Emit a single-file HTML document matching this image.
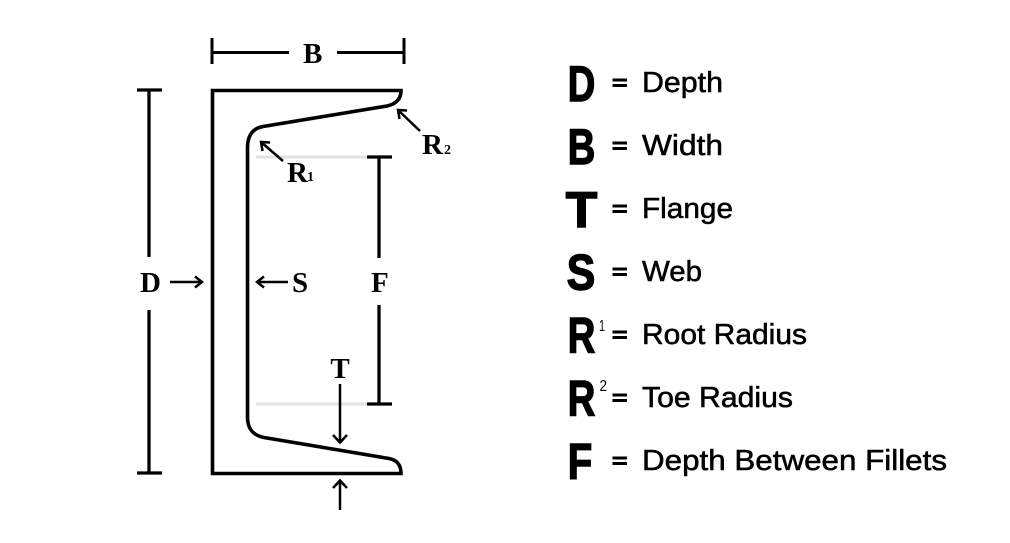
<!DOCTYPE html>
<html>
<head>
<meta charset="utf-8">
<style>
  html, body { margin: 0; padding: 0; background: #fff; }
  body { width: 1010px; height: 543px; overflow: hidden; }
  svg { display: block; }
  .serif { font-family: "Liberation Serif", "DejaVu Serif", serif; font-weight: bold; fill: #000; }
  .big { font-family: "Liberation Sans", "DejaVu Sans", sans-serif; font-weight: bold; fill: #000; font-size: 50px; stroke: #000; stroke-width: 1.5px; stroke-linejoin: miter; }
  .txt { font-family: "Liberation Sans", "DejaVu Sans", sans-serif; fill: #000; font-size: 29px; stroke: #000; stroke-width: 0.55px; }
  .sup { font-family: "Liberation Sans", "DejaVu Sans", sans-serif; fill: #000; font-size: 16px; }
</style>
</head>
<body>
<svg width="1010" height="543" viewBox="0 0 1010 543" xmlns="http://www.w3.org/2000/svg">
  <rect x="0" y="0" width="1010" height="543" fill="#fff"/>

  <!-- gray fillet lines -->
  <line x1="256" y1="157" x2="367" y2="157" stroke="#e2e2e2" stroke-width="3"/>
  <line x1="256" y1="404" x2="367" y2="404" stroke="#e2e2e2" stroke-width="3"/>

  <!-- channel section -->
  <path d="M 401,90.5 L 212.5,90.5 L 212.5,473.5 L 401,473.5
           C 401,465 397,460 389,458.5
           L 264,437.5
           C 252,435 247.5,428 247.5,417
           L 247.5,148
           C 247.5,136 252,128.5 263,126.5
           L 387,106
           C 396,104 401,99 401,90.5 Z"
        fill="none" stroke="#000" stroke-width="3.6" stroke-linejoin="miter"/>

  <!-- B dimension -->
  <g stroke="#000" stroke-width="3" fill="none">
    <line x1="212" y1="52.5" x2="289" y2="52.5"/>
    <line x1="337" y1="52.5" x2="404" y2="52.5"/>
    <line x1="212" y1="38" x2="212" y2="64"/>
    <line x1="404" y1="38" x2="404" y2="64"/>
  </g>
  <text class="serif" x="303" y="63" font-size="29">B</text>

  <!-- D dimension -->
  <g stroke="#000" stroke-width="3.3" fill="none">
    <line x1="149" y1="90" x2="149" y2="257"/>
    <line x1="149" y1="310" x2="149" y2="473"/>
    <line x1="137" y1="90" x2="162" y2="90"/>
    <line x1="137" y1="473" x2="162" y2="473"/>
  </g>
  <text class="serif" x="140" y="292" font-size="29">D</text>
  <g stroke="#000" stroke-width="2.5" fill="none">
    <line x1="170" y1="282" x2="202" y2="282"/>
    <polyline points="195,276.5 202,282 195,287.5"/>
  </g>

  <!-- S -->
  <g stroke="#000" stroke-width="2.5" fill="none">
    <line x1="257" y1="282" x2="288" y2="282"/>
    <polyline points="264,276.5 257,282 264,287.5"/>
  </g>
  <text class="serif" x="292" y="292" font-size="29">S</text>

  <!-- F dimension -->
  <g stroke="#000" stroke-width="3.3" fill="none">
    <line x1="379" y1="157" x2="379" y2="258"/>
    <line x1="379" y1="305" x2="379" y2="404"/>
    <line x1="367" y1="157" x2="392" y2="157"/>
    <line x1="367" y1="404" x2="392" y2="404"/>
  </g>
  <text class="serif" x="371" y="292" font-size="29">F</text>

  <!-- T -->
  <text class="serif" x="340" y="378" font-size="29" text-anchor="middle">T</text>
  <g stroke="#000" stroke-width="2.5" fill="none">
    <line x1="340" y1="384" x2="340" y2="442"/>
    <polyline points="333,435 340,442.5 347,435"/>
    <line x1="340" y1="510" x2="340" y2="481"/>
    <polyline points="333,488 340,480.5 347,488"/>
  </g>

  <!-- R1 -->
  <g stroke="#000" stroke-width="2.5" fill="none">
    <line x1="283" y1="161" x2="261" y2="142"/>
    <polyline points="262.5,151 261,142 270,142.5"/>
  </g>
  <text class="serif" x="287" y="182" font-size="29">R</text>
  <text class="serif" x="307" y="181" font-size="14">1</text>

  <!-- R2 -->
  <g stroke="#000" stroke-width="2.5" fill="none">
    <line x1="420" y1="131" x2="398" y2="110"/>
    <polyline points="399.5,119 398,110 407,110.5"/>
  </g>
  <text class="serif" x="422" y="154" font-size="29">R</text>
  <text class="serif" x="444" y="154" font-size="14">2</text>

  <!-- Legend big letters -->
  <text class="big" x="567.75" y="101.2" textLength="27.5" lengthAdjust="spacingAndGlyphs">D</text>
  <text class="big" x="567.75" y="164.2" textLength="27.5" lengthAdjust="spacingAndGlyphs">B</text>
  <text class="big" x="565.75" y="227.2" textLength="31.5" lengthAdjust="spacingAndGlyphs">T</text>
  <text class="big" x="566.75" y="289.7" textLength="28.5" lengthAdjust="spacingAndGlyphs">S</text>
  <text class="big" x="567.75" y="352.7" textLength="27.5" lengthAdjust="spacingAndGlyphs">R</text>
  <text class="big" x="567.75" y="415.7" textLength="27.5" lengthAdjust="spacingAndGlyphs">R</text>
  <text class="big" x="567.75" y="478.7" textLength="24.5" lengthAdjust="spacingAndGlyphs">F</text>

  <text class="sup" x="599" y="331" textLength="6" lengthAdjust="spacingAndGlyphs">1</text>
  <text class="sup" x="599.5" y="391" textLength="7.5" lengthAdjust="spacingAndGlyphs">2</text>

  <!-- equals signs -->
  <g fill="#000">
    <rect x="612.5" y="78.5" width="14.5" height="3"/><rect x="612.5" y="84" width="14.5" height="3"/>
    <rect x="612.5" y="141.5" width="14.5" height="3"/><rect x="612.5" y="147" width="14.5" height="3"/>
    <rect x="612.5" y="204.5" width="14.5" height="3"/><rect x="612.5" y="210" width="14.5" height="3"/>
    <rect x="612.5" y="267.5" width="14.5" height="3"/><rect x="612.5" y="273" width="14.5" height="3"/>
    <rect x="612.5" y="330.5" width="14.5" height="3"/><rect x="612.5" y="336" width="14.5" height="3"/>
    <rect x="612.5" y="393.5" width="14.5" height="3"/><rect x="612.5" y="399" width="14.5" height="3"/>
    <rect x="612.5" y="456.5" width="14.5" height="3"/><rect x="612.5" y="462" width="14.5" height="3"/>
  </g>

  <!-- Legend text -->
  <text class="txt" x="642" y="92" textLength="81" lengthAdjust="spacingAndGlyphs">Depth</text>
  <text class="txt" x="642" y="155" textLength="81" lengthAdjust="spacingAndGlyphs">Width</text>
  <text class="txt" x="642" y="218" textLength="91" lengthAdjust="spacingAndGlyphs">Flange</text>
  <text class="txt" x="642" y="281" textLength="60" lengthAdjust="spacingAndGlyphs">Web</text>
  <text class="txt" x="642" y="344" textLength="165" lengthAdjust="spacingAndGlyphs">Root Radius</text>
  <text class="txt" x="642" y="407" textLength="151" lengthAdjust="spacingAndGlyphs">Toe Radius</text>
  <text class="txt" x="642" y="470" textLength="305" lengthAdjust="spacingAndGlyphs">Depth Between Fillets</text>
</svg>
</body>
</html>
